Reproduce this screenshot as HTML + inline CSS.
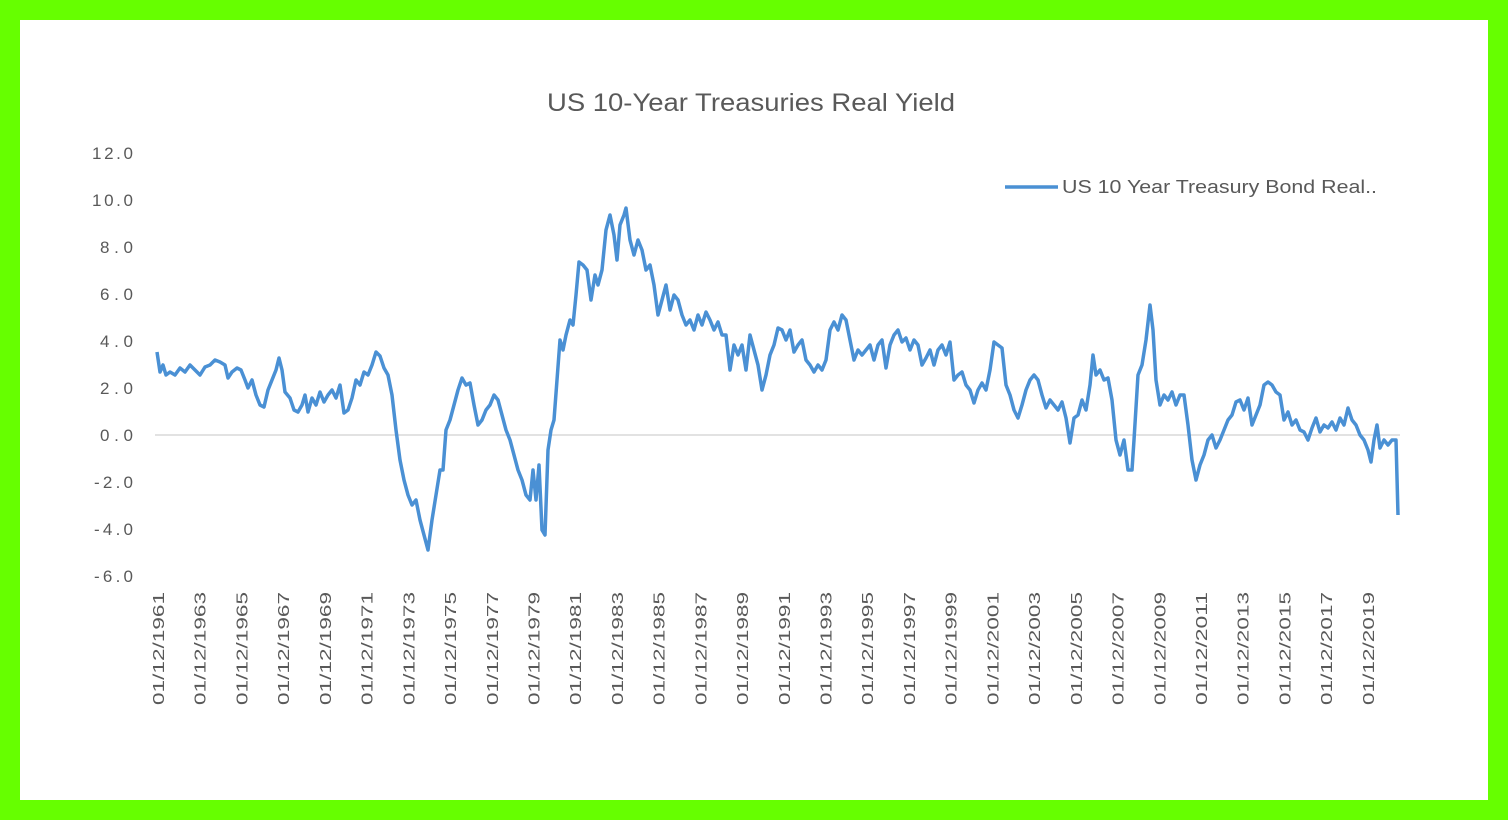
<!DOCTYPE html>
<html><head><meta charset="utf-8"><style>
html,body{margin:0;padding:0;background:#66ff00;}
body{width:1508px;height:820px;overflow:hidden;position:relative;}
</style></head><body>
<svg width="1508" height="820" style="position:absolute;left:0;top:0" font-family="Liberation Sans, sans-serif">
<rect x="0" y="0" width="1508" height="820" fill="#66ff00"/>
<rect x="20" y="20" width="1468" height="780" fill="#ffffff"/>
<text x="547" y="111" font-size="25" fill="#595959" textLength="408" lengthAdjust="spacingAndGlyphs">US 10-Year Treasuries Real Yield</text>
<g font-size="17" fill="#595959" lengthAdjust="spacingAndGlyphs">
<text x="92" y="159" textLength="41">12.0</text><text x="92" y="206" textLength="41">10.0</text><text x="100" y="253" textLength="33">8.0</text>
<text x="100" y="300" textLength="33">6.0</text><text x="100" y="347" textLength="33">4.0</text><text x="100" y="394" textLength="33">2.0</text>
<text x="100" y="441" textLength="33">0.0</text><text x="94" y="488" textLength="39">-2.0</text><text x="94" y="535" textLength="39">-4.0</text>
<text x="94" y="582" textLength="39">-6.0</text>
</g>
<line x1="155" y1="435" x2="1400" y2="435" stroke="#d9d9d9" stroke-width="1.5"/>
<g font-size="16" fill="#595959" id="xl"></g>
<polyline fill="none" stroke="#4a90d4" stroke-width="3.5" stroke-linejoin="round" points="157,352 160,372 163,365 166,375 170,372 175,375 180,368 185,372 190,365 195,370 200,375 205,367 210,365 215,360 220,362 225,365 228,378 232,372 237,368 241,370 245,380 248,388 252,380 256,395 260,405 264,407 268,390 272,380 276,370 279,358 282,370 285,392 290,398 294,410 298,412 302,405 305,395 308,412 312,398 316,405 320,392 324,402 328,395 332,390 336,398 340,385 344,413 348,410 352,398 356,380 360,385 364,372 368,375 372,365 376,352 380,356 384,368 388,375 392,395 396,430 400,460 404,480 408,495 412,505 416,500 420,520 424,535 428,550 432,520 436,495 440,470 443,470 446,430 450,420 454,405 458,390 462,378 466,385 470,383 474,405 478,425 482,420 486,410 490,405 494,395 498,400 502,415 506,430 510,440 514,455 518,470 522,480 526,495 530,500 533,470 536,500 539,465 542,530 545,535 548,450 551,430 554,420 557,380 560,340 563,350 566,335 570,320 573,325 576,295 579,262 583,265 587,270 591,300 595,275 598,285 602,270 606,230 610,215 614,235 617,260 620,225 624,215 626,208 630,240 634,255 638,240 642,250 646,270 650,265 654,285 658,315 662,300 666,285 670,310 674,295 678,300 682,315 686,325 690,320 694,330 698,315 702,325 706,312 710,320 714,330 718,322 722,335 726,335 730,370 734,345 738,355 742,345 746,370 750,335 754,350 758,365 762,390 766,375 770,355 774,345 778,328 782,330 786,340 790,330 794,352 798,345 802,340 806,360 810,365 814,372 818,365 822,370 826,360 830,330 834,322 838,330 842,315 846,320 850,340 854,360 858,350 862,355 866,350 870,345 874,360 878,345 882,340 886,368 890,345 894,335 898,330 902,342 906,338 910,350 914,340 918,345 922,365 926,358 930,350 934,365 938,350 942,345 946,355 950,342 954,380 958,375 962,372 966,385 970,390 974,403 978,390 982,383 986,390 990,370 994,342 998,345 1002,348 1006,385 1010,395 1014,410 1018,418 1022,405 1026,390 1030,380 1034,375 1038,380 1042,395 1046,408 1050,400 1054,405 1058,410 1062,402 1066,418 1070,443 1074,418 1078,415 1082,400 1086,410 1090,385 1093,355 1096,375 1100,370 1104,380 1108,378 1112,400 1116,440 1120,455 1124,440 1128,470 1132,470 1134,440 1138,375 1142,365 1146,340 1150,305 1153,330 1156,380 1160,405 1164,395 1168,400 1172,392 1176,405 1180,395 1184,395 1188,425 1192,460 1196,480 1200,465 1204,455 1208,440 1212,435 1216,448 1220,440 1224,430 1228,420 1232,415 1236,402 1240,400 1244,410 1248,398 1252,425 1256,415 1260,405 1264,385 1268,382 1272,385 1276,392 1280,395 1284,420 1288,412 1292,425 1296,420 1300,430 1304,432 1308,440 1312,428 1316,418 1320,432 1324,425 1328,428 1332,422 1336,430 1340,418 1344,425 1348,408 1352,420 1356,425 1360,435 1364,440 1368,450 1371,462 1374,440 1377,425 1380,448 1384,440 1388,445 1392,440 1396,440 1398,515"/>
<line x1="1005" y1="187" x2="1058" y2="187" stroke="#4a90d4" stroke-width="3.5"/>
<text x="1062" y="193" font-size="18" fill="#595959" textLength="315" lengthAdjust="spacingAndGlyphs">US 10 Year Treasury Bond Real..</text>
</svg>
<script>
var g=document.getElementById('xl'),s='';
for(var i=0;i<30;i++){var y=1961+2*i,x=158+i*41.72+6;
s+='<text transform="translate('+x.toFixed(1)+',705) rotate(-90)" textLength="113" lengthAdjust="spacingAndGlyphs">01/12/'+y+'</text>';}
g.innerHTML=s;
</script>
</body></html>
